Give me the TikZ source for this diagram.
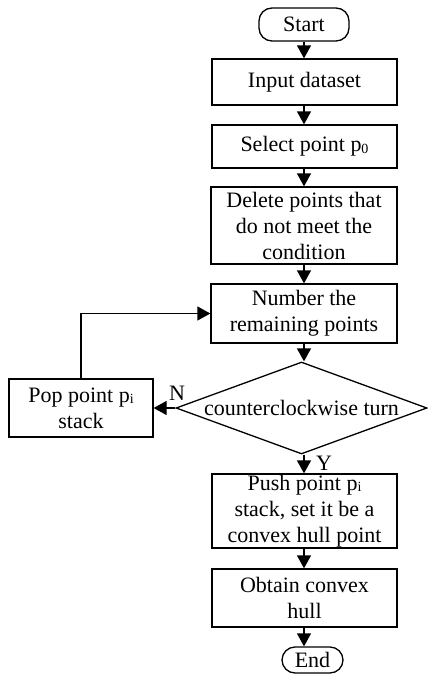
\documentclass[tikz,border=0pt]{standalone}
\usepackage{fontspec}
\setmainfont{Liberation Serif}
\usetikzlibrary{arrows.meta,shapes.geometric}
\newcommand{\smsub}[1]{\raisebox{-1.5pt}{\fontsize{14}{14}\selectfont #1}}
\begin{document}
\begin{tikzpicture}[x=1pt,y=-1pt,
  box/.style={draw,line width=1.3pt,inner sep=0pt,align=center,font=\fontsize{22}{26}\selectfont},
  term/.style={box,rounded corners=13pt},
  arr/.style={line width=1.3pt,-{Triangle[width=14pt,length=13pt]}},
  lbl/.style={inner sep=0pt,font=\fontsize{22}{26}\selectfont}]
\useasboundingbox (0,0) rectangle (428,675);
\node[term,minimum width=90pt,minimum height=33pt] (start) at (304,24.5) {Start};
\node[box,minimum width=185pt,minimum height=46pt] (input) at (304.5,82) {Input dataset};
\node[box,minimum width=185pt,minimum height=43pt] (select) at (304.5,146.5) {Select point p\smsub{0}};
\node[box,minimum width=186pt,minimum height=77pt] (delete) at (304,225.5) {Delete points that\\do not meet the\\condition};
\node[box,minimum width=186pt,minimum height=59pt] (number) at (304,313.5) {Number the\\remaining points};
\node[diamond,draw,line width=1.3pt,inner sep=0pt,minimum width=251pt,minimum height=92pt,shape aspect=2.73] (dec) at (301.5,408) {};
\node[lbl] (dectext) at (dec.center) {counterclockwise turn};
\node[box,minimum width=144pt,minimum height=58pt] (pop) at (81,408) {Pop point p\smsub{i}\\stack};
\node[box,minimum width=185pt,minimum height=74pt] (push) at (304.5,511) {Push point p\smsub{i}\\stack, set it be a\\convex hull point};
\node[box,minimum width=185pt,minimum height=58pt] (obtain) at (304.5,598) {Obtain convex\\hull};
\node[term,minimum width=61pt,minimum height=26pt] (end) at (312.5,660) {End};
\node[lbl] (N) at (177,393) {N};
\node[lbl] (Y) at (324,463) {Y};
\coordinate (x) at (304,0);
\draw[arr] (start.south -| x) -- (input.north -| x);
\draw[arr] (input.south -| x) -- (select.north -| x);
\draw[arr] (select.south -| x) -- (delete.north -| x);
\draw[arr] (delete.south -| x) -- (number.north -| x);
\draw[arr] (number.south -| x) -- (dec.north -| x);
\draw[arr] (dec.south -| x) -- (push.north -| x);
\draw[arr] (push.south -| x) -- (obtain.north -| x);
\draw[arr] (obtain.south -| x) -- (end.north -| x);
\draw[arr] (dec.west) -- (pop.east);
\draw[arr] (pop.north) |- (number.west);
\end{tikzpicture}
\end{document}
